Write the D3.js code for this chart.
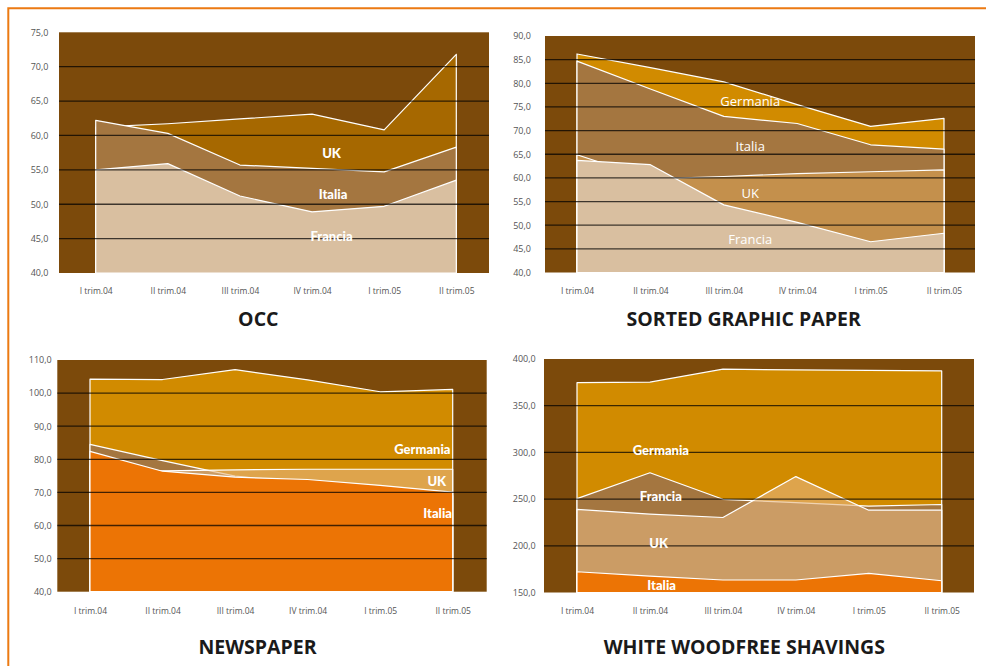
<!DOCTYPE html>
<html>
<head>
<meta charset="utf-8">
<script src="https://cdn.jsdelivr.net/npm/d3@7"></script>
<style>
    body { margin: 0; background: #fff; }
    svg { display: block; }
</style>
</head>
<body>
<div id="charts"></div>
<script>

/* Data */
const quarters = ["I trim.04", "II trim.04", "III trim.04", "IV trim.04", "I trim.05", "II trim.05"];

// OCC
const occUK = [61.2, 61.7, 62.4, 63.1, 60.8, 71.8];
const occItalia = [62.2, 60.3, 55.7, 55.2, 54.7, 58.3];
const occFrancia = [55.0, 55.9, 51.2, 48.9, 49.7, 53.5];

// Sorted graphic paper
const sgpGermania = [86.2, 83.3, 80.3, 75.5, 70.9, 72.6];
const sgpItalia = [84.7, 78.8, 73.0, 71.5, 67.0, 66.1];
const sgpUK = [64.9, 59.8, 60.3, 60.9, 61.3, 61.7];
const sgpFrancia = [63.7, 62.8, 54.3, 50.6, 46.5, 48.3];

// Newspaper
const npGermania = [104.2, 104.1, 107.1, 104.0, 100.4, 101.1];
const npFrancia = [84.5, 79.6, 74.9, 73.0, 71.0, 69.0];
const npUK = [78.0, 76.5, 76.8, 77.0, 77.0, 77.0];
const npItalia = [82.4, 76.4, 74.6, 73.9, 72.1, 70.1];

// White woodfree shavings
const wwsGermania = [374.6, 375.2, 389.1, 388.4, 387.8, 387.2];
const wwsFrancia = [250.5, 278.2, 249.8, 246.3, 242.4, 244.2];
const wwsUK = [238.9, 233.9, 230.3, 274.1, 238.1, 238.1];
const wwsItalia = [172.2, 167.6, 163.4, 163.4, 170.5, 162.6];

/* Colors */
const bgColor = "#7C4A0B";
const goldColor = "#D18B00";
const brownColor = "#A47640";
const tanColor = "#D9BFA0";
const orangeColor = "#EC7405";

/* Panels: layout + which arrays go where (back to front) */
const panels = [
    {
        title: "OCC", domain: [40, 75], step: 5,
        box: { left: 59, right: 489, top: 32.3, bottom: 273 }, points: [95.7, 456.3],
        yLabelX: 48.5, xLabelY: 291, titleX: 258.3, titleY: 326,
        series: [
            { name: "UK", values: occUK, fill: "#A66800" },
            { name: "Italia", values: occItalia, fill: brownColor },
            { name: "Francia", values: occFrancia, fill: tanColor }
        ],
        labelStyle: "bold", labelAnchor: "middle",
        labels: [
            { text: "UK", at: [3.27, 57.4] },
            { text: "Italia", at: [3.29, 51.4] },
            { text: "Francia", at: [3.27, 45.4] }
        ]
    },
    {
        title: "SORTED GRAPHIC PAPER", domain: [40, 90], step: 5,
        box: { left: 545, right: 975, top: 36, bottom: 272.5 }, points: [577, 944],
        yLabelX: 531, xLabelY: 291, titleX: 743.7, titleY: 326,
        series: [
            { name: "Germania", values: sgpGermania, fill: goldColor },
            { name: "Italia", values: sgpItalia, fill: brownColor },
            { name: "UK", values: sgpUK, fill: "#C4904C" },
            { name: "Francia", values: sgpFrancia, fill: tanColor }
        ],
        labelStyle: "regular", labelAnchor: "middle",
        labels: [
            { text: "Germania", at: [2.36, 76.2] },
            { text: "Italia", at: [2.36, 66.6] },
            { text: "UK", at: [2.36, 56.8] },
            { text: "Francia", at: [2.36, 47.0] }
        ]
    },
    {
        title: "NEWSPAPER", domain: [40, 110], step: 10,
        box: { left: 57.3, right: 486.7, top: 360, bottom: 591.7 }, points: [90, 452.7],
        yLabelX: 51.7, xLabelY: 610.7, titleX: 257.5, titleY: 653.7,
        series: [
            { name: "Germania", values: npGermania, fill: goldColor },
            { name: "Francia", values: npFrancia, fill: brownColor },
            { name: "UK", values: npUK, fill: "#E6B57F", opacity: 0.6 },
            { name: "Italia", values: npItalia, fill: orangeColor }
        ],
        labelStyle: "bold", labelAnchor: "end",
        labels: [
            { text: "Germania", at: [4.97, 82.9] },
            { text: "UK", at: [4.91, 73.4] },
            { text: "Italia", at: [4.99, 63.6] }
        ]
    },
    {
        title: "WHITE WOODFREE SHAVINGS", domain: [150, 400], step: 50,
        box: { left: 544, right: 974, top: 359, bottom: 592.5 }, points: [577, 941.7],
        yLabelX: 535.7, xLabelY: 610.7, titleX: 744.3, titleY: 653.7,
        series: [
            { name: "Germania", values: wwsGermania, fill: goldColor },
            { name: "Francia", values: wwsFrancia, fill: brownColor },
            { name: "UK", values: wwsUK, fill: "#E6B57F", opacity: 0.6 },
            { name: "Italia", values: wwsItalia, fill: orangeColor }
        ],
        labelStyle: "bold", labelAnchor: "middle",
        labels: [
            { text: "Germania", at: [1.15, 302.6] },
            { text: "Francia", at: [1.15, 253.4] },
            { text: "UK", at: [1.12, 202.9] },
            { text: "Italia", at: [1.16, 157.3] }
        ]
    }
];

/* Number format with decimal comma */
const locale = d3.formatLocale({ decimal: ",", thousands: ".", grouping: [3], currency: ["", "€"] });
const fmt = locale.format(".1f");

const svg = d3.select("#charts")
    .append("svg")
    .attr("width", 986)
    .attr("height", 666);

/* Orange frame (top and left) */
svg.append("path")
    .attr("d", "M8.3,666V8.3H986")
    .attr("fill", "none")
    .attr("stroke", "#EC7A12")
    .attr("stroke-width", 2);

function drawPanel(p) {
    let x = d3.scalePoint().domain(quarters).range(p.points);
    let y = d3.scaleLinear().domain(p.domain).range([p.box.bottom, p.box.top]);
    let g = svg.append("g");

    /* Dark plot background */
    g.append("rect")
        .attr("x", p.box.left)
        .attr("y", y(p.domain[1]))
        .attr("width", p.box.right - p.box.left)
        .attr("height", y(p.domain[0]) - y(p.domain[1]))
        .attr("fill", bgColor);

    /* Overlapping areas, each from the baseline */
    let area = d3.area()
        .x(function (d, i) { return x(quarters[i]); })
        .y0(y(p.domain[0]))
        .y1(function (d) { return y(d); });

    g.selectAll("path.area")
        .data(p.series)
        .enter().append("path")
        .attr("class", "area")
        .attr("d", function (d) { return area(d.values); })
        .attr("fill", function (d) { return d.fill; })
        .attr("fill-opacity", function (d) { return d.opacity || 1; })
        .attr("stroke", "#fff")
        .attr("stroke-width", 1.2)
        .attr("stroke-linejoin", "round");

    /* Gridlines on top of the areas (no line at min/max) */
    let gridTicks = d3.range(p.domain[0] + p.step, p.domain[1], p.step);
    g.selectAll("line.grid")
        .data(gridTicks)
        .enter().append("line")
        .attr("class", "grid")
        .attr("x1", p.box.left)
        .attr("x2", p.box.right)
        .attr("y1", function (d) { return y(d); })
        .attr("y2", function (d) { return y(d); })
        .attr("stroke", "#000")
        .attr("stroke-opacity", 0.72)
        .attr("stroke-width", 1.3);

    /* Y axis labels */
    let yAxis = d3.axisLeft(y)
        .tickValues(d3.range(p.domain[0], p.domain[1] + p.step / 2, p.step))
        .tickSize(0)
        .tickPadding(0)
        .tickFormat(fmt);
    let ya = g.append("g")
        .attr("transform", "translate(" + p.yLabelX + ",0)")
        .call(yAxis);
    ya.select(".domain").remove();
    ya.attr("font-family", "'Open Sans', sans-serif").attr("font-size", 9);
    ya.selectAll("text").attr("fill", "#555");

    /* X axis labels */
    let xAxis = d3.axisBottom(x).tickSize(0).tickPadding(0);
    let xa = g.append("g")
        .attr("transform", "translate(0," + p.xLabelY + ")")
        .call(xAxis);
    xa.select(".domain").remove();
    xa.attr("font-family", "'Open Sans', sans-serif").attr("font-size", 8.5);
    xa.selectAll("text").attr("fill", "#555").attr("dy", "0.35em");

    /* Series names inside the areas */
    let bold = p.labelStyle == "bold";
    g.selectAll("text.series-label")
        .data(p.labels)
        .enter().append("text")
        .attr("class", "series-label")
        .attr("x", function (d) { return p.points[0] + d.at[0] * x.step(); })
        .attr("y", function (d) { return y(d.at[1]); })
        .attr("dy", "0.36em")
        .attr("text-anchor", p.labelAnchor)
        .attr("fill", "#fff")
        .attr("font-family", bold ? "Lato, 'DejaVu Sans', sans-serif" : "'Open Sans', sans-serif")
        .attr("font-weight", bold ? 900 : "normal")
        .attr("font-size", 13)
        .text(function (d) { return d.text; });

    /* Title */
    g.append("text")
        .attr("x", p.titleX)
        .attr("y", p.titleY)
        .attr("text-anchor", "middle")
        .attr("font-family", "'Open Sans', sans-serif")
        .attr("font-weight", "bold")
        .attr("font-size", 19.5)
        .attr("fill", "#1a1a1a")
        .text(p.title);
}

panels.forEach(drawPanel);

</script>
</body>
</html>
